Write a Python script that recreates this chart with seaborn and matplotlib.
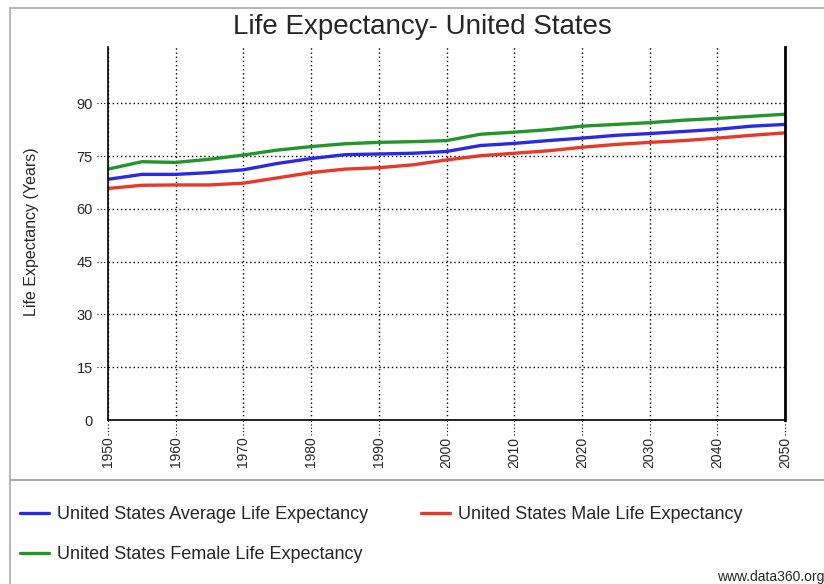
import pandas as pd
import seaborn as sns
import matplotlib.pyplot as plt
from matplotlib.patches import Rectangle

years = [1950, 1955, 1960, 1965, 1970, 1975, 1980, 1985, 1990, 1995, 2000,
         2005, 2010, 2015, 2020, 2025, 2030, 2035, 2040, 2045, 2050]
average = [68.4, 69.8, 69.8, 70.3, 71.1, 72.9, 74.3, 75.4, 75.6, 75.8, 76.3,
           78.0, 78.6, 79.4, 80.1, 80.9, 81.4, 82.0, 82.6, 83.5, 84.0]
male = [65.8, 66.7, 66.8, 66.8, 67.3, 68.8, 70.3, 71.3, 71.7, 72.5, 73.9,
        75.1, 75.8, 76.5, 77.5, 78.3, 78.9, 79.4, 80.1, 80.9, 81.6]
female = [71.3, 73.4, 73.2, 74.1, 75.3, 76.7, 77.7, 78.5, 78.9, 79.1, 79.4,
          81.2, 81.8, 82.5, 83.5, 84.0, 84.5, 85.2, 85.7, 86.3, 86.9]

series_names = ['United States Average Life Expectancy',
                'United States Male Life Expectancy',
                'United States Female Life Expectancy']
xticks = list(range(1950, 2051, 10))
yticks = [0, 15, 30, 45, 60, 75, 90]

df = pd.DataFrame({'Year': years * 3,
                   'Life': average + male + female,
                   'Series': [series_names[0]] * len(years)
                   + [series_names[1]] * len(years)
                   + [series_names[2]] * len(years)})

sns.set_style('white')
plt.rcParams['font.family'] = ['Liberation Sans', 'DejaVu Sans']

palette = {series_names[0]: '#2a2ae6', series_names[1]: '#e8382a', series_names[2]: '#23952a'}

fig = plt.figure(figsize=(8.24, 5.84), dpi=100)
ax = fig.add_axes([108 / 824, 1 - 420 / 584, 677 / 824, 373 / 584])

sns.lineplot(data=df, x='Year', y='Life', hue='Series', palette=palette,
             linewidth=2.4, ax=ax, legend=False)

ax.set_xlim(1950, 2050)
ax.set_ylim(0, 106)
ax.set_xticks(xticks)
ax.set_yticks(yticks)
ax.set_xticklabels([str(x) for x in xticks], rotation=90, fontsize=10)
ax.set_yticklabels([str(y) for y in yticks], fontsize=10.5)
ax.set_xlabel('')
ax.set_ylabel('')
ax.tick_params(axis='x', length=0, pad=12)
ax.tick_params(axis='y', length=0, pad=11)
ax.grid(True, color='black', linestyle=(0, (1, 2)), linewidth=1)
ax.set_axisbelow(True)

ax.spines['top'].set_visible(False)
for side in ['left', 'bottom']:
    ax.spines[side].set_color('black')
    ax.spines[side].set_linewidth(1.2)
ax.spines['right'].set_color('black')
ax.spines['right'].set_linewidth(2)
ax.spines['right'].set_linestyle((0, (1, 1)))

# dotted tick extensions
for x in xticks:
    ax.axvline(x, ymin=-0.04, ymax=0, color='black', linestyle=(0, (1, 2)), linewidth=0.8, clip_on=False)
for y in yticks[1:]:
    ax.axhline(y, xmin=-0.016, xmax=0, color='black', linestyle=(0, (1, 2)), linewidth=0.8, clip_on=False)

fig.text(0.512, 1 - 27 / 584, 'Life Expectancy- United States', ha='center', va='center', fontsize=20)
fig.text(32 / 824, 1 - 232 / 584, 'Life Expectancy (Years)', rotation=90, ha='center', va='center', fontsize=11.5)

# outer frame and legend divider
fig.patches.append(Rectangle((10 / 824, -0.1), 1.1, 1.1 - 8 / 584, transform=fig.transFigure,
                             fill=False, edgecolor='#a9a9a9', linewidth=1.2))
fig.add_artist(plt.Line2D([10 / 824, 1], [1 - 480 / 584, 1 - 480 / 584], transform=fig.transFigure,
                          color='#a9a9a9', linewidth=1.5))

order = [0, 2, 1]
handles = [plt.Line2D([], [], color=palette[series_names[i]], linewidth=2.4) for i in order]
fig.legend(handles, [series_names[i] for i in order], loc='upper left',
           bbox_to_anchor=(4 / 824, 1 - 490 / 584), ncol=2, frameon=False, fontsize=13,
           handlelength=1.6, handletextpad=0.45, columnspacing=2.9, labelspacing=1.25)

fig.text(717 / 824, 1 - 577 / 584, 'www.data360.org', ha='left', va='center', fontsize=10)

fig.savefig('out.png', dpi=100)
